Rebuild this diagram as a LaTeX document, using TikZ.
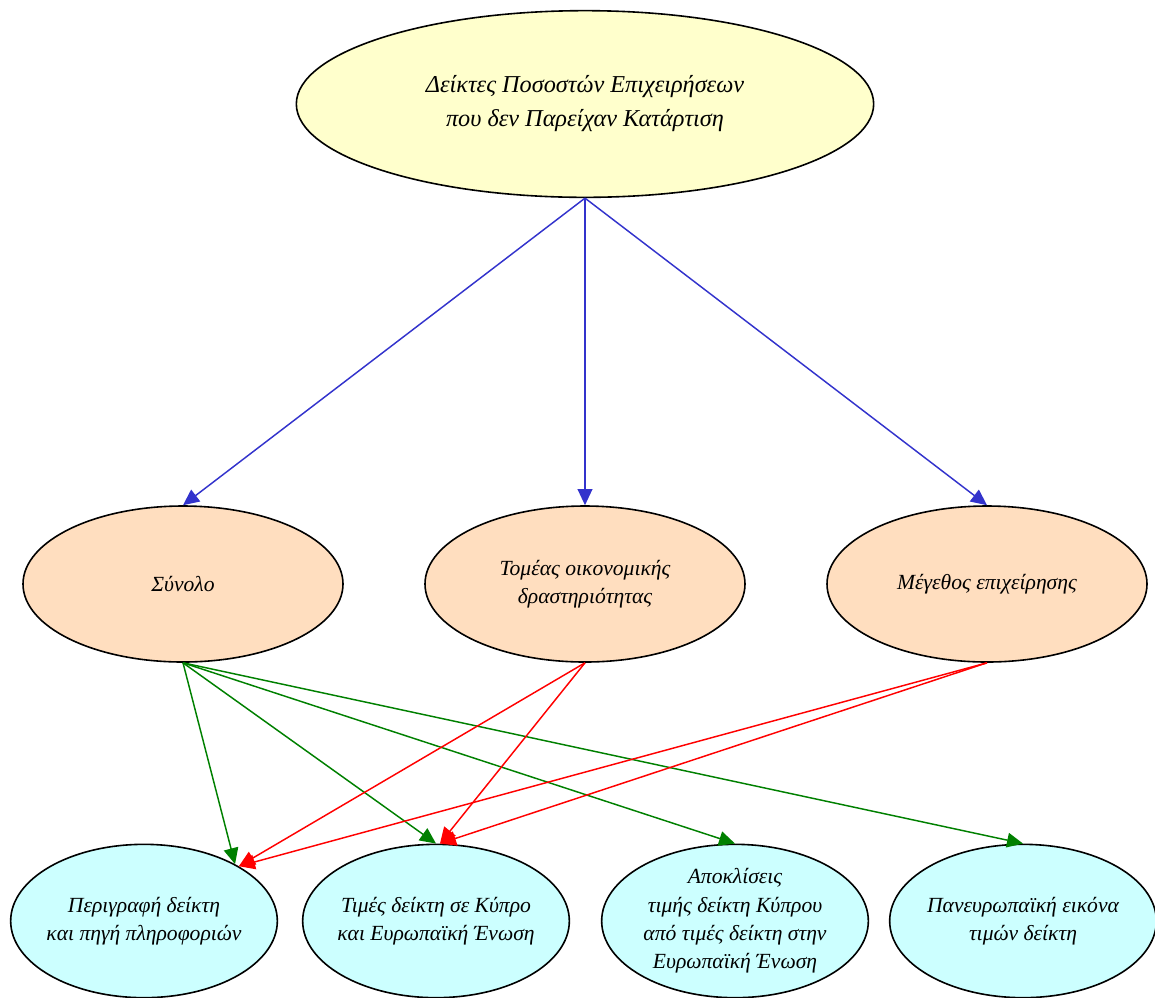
\documentclass[tikz,border=0pt]{standalone}
\usepackage{fontspec}
\setmainfont{Liberation Serif}
\usetikzlibrary{arrows.meta, positioning, calc, shapes.geometric}

\definecolor{rootfill}{HTML}{FFFFCC}
\definecolor{groupfill}{HTML}{FFDEBF}
\definecolor{leaffill}{HTML}{CCFFFF}
\definecolor{bluelink}{HTML}{3333CC}
\definecolor{greenlink}{HTML}{008000}
\definecolor{redlink}{HTML}{FF0000}

\tikzset{
    oval/.style={ellipse, draw, line width=1.2pt, inner sep=0pt},
    rootnode/.style={oval, fill=rootfill, minimum width=433pt, minimum height=140pt},
    groupnode/.style={oval, fill=groupfill, minimum width=240pt, minimum height=117pt},
    leafnode/.style={oval, fill=leaffill, minimum width=200pt, minimum height=115pt},
    bigtext/.style={align=center, font=\fontsize{18.2}{25.5}\selectfont\itshape},
    smalltext/.style={align=center, font=\fontsize{16.2}{21.3}\selectfont\itshape},
    link/.style={->, line width=1.1pt},
}

\begin{document}
\begin{tikzpicture}[x=0.75pt, y=-0.75pt, >={Triangle[length=12pt, width=11pt]}]
    \useasboundingbox (0, 0) rectangle (1155, 997);

    % koryfi
    \node[rootnode, label={[bigtext]center:Δείκτες Ποσοστών Επιχειρήσεων\\ που δεν Παρείχαν Κατάρτιση}] (root) at (585, 104) {};

    % meses omades
    \node[groupnode, label={[smalltext]center:Σύνολο}] (total) at (183, 584) {};
    \node[groupnode, label={[smalltext]center:Τομέας οικονομικής\\ δραστηριότητας}] (sector) at (585, 584) {};
    \node[groupnode, label={[smalltext]center:Μέγεθος επιχείρησης}] (size) at (987, 584) {};

    % fyla
    \node[leafnode, label={[smalltext]center:Περιγραφή δείκτη\\ και πηγή πληροφοριών}] (descr) at (144, 921) {};
    \node[leafnode, label={[smalltext]center:Τιμές δείκτη σε Κύπρο\\ και Ευρωπαϊκή Ένωση}] (values) at (436, 921) {};
    \node[leafnode, label={[smalltext]center:Αποκλίσεις\\ τιμής δείκτη Κύπρου\\ από τιμές δείκτη στην\\ Ευρωπαϊκή Ένωση}] (gaps) at (735, 921) {};
    \node[leafnode, label={[smalltext]center:Πανευρωπαϊκή εικόνα\\ τιμών δείκτη}] (europe) at (1023, 921) {};

    \draw[link, bluelink] (root.south) -- (total.north);
    \draw[link, bluelink] (root.south) -- (sector.north);
    \draw[link, bluelink] (root.south) -- (size.north);

    \draw[link, greenlink] (total.south) -- (descr.32);
    \draw[link, greenlink] (total.south) -- (values.north);
    \draw[link, greenlink] (total.south) -- (gaps.north);
    \draw[link, greenlink] (total.south) -- (europe.north);

    \draw[link, redlink] (sector.south) -- (descr.30);
    \draw[link, redlink] (sector.south) -- ([xshift=3pt]values.north);
    \draw[link, redlink] (size.south) -- (descr.30);
    \draw[link, redlink] (size.south) -- ([xshift=3pt]values.north);
\end{tikzpicture}
\end{document}
